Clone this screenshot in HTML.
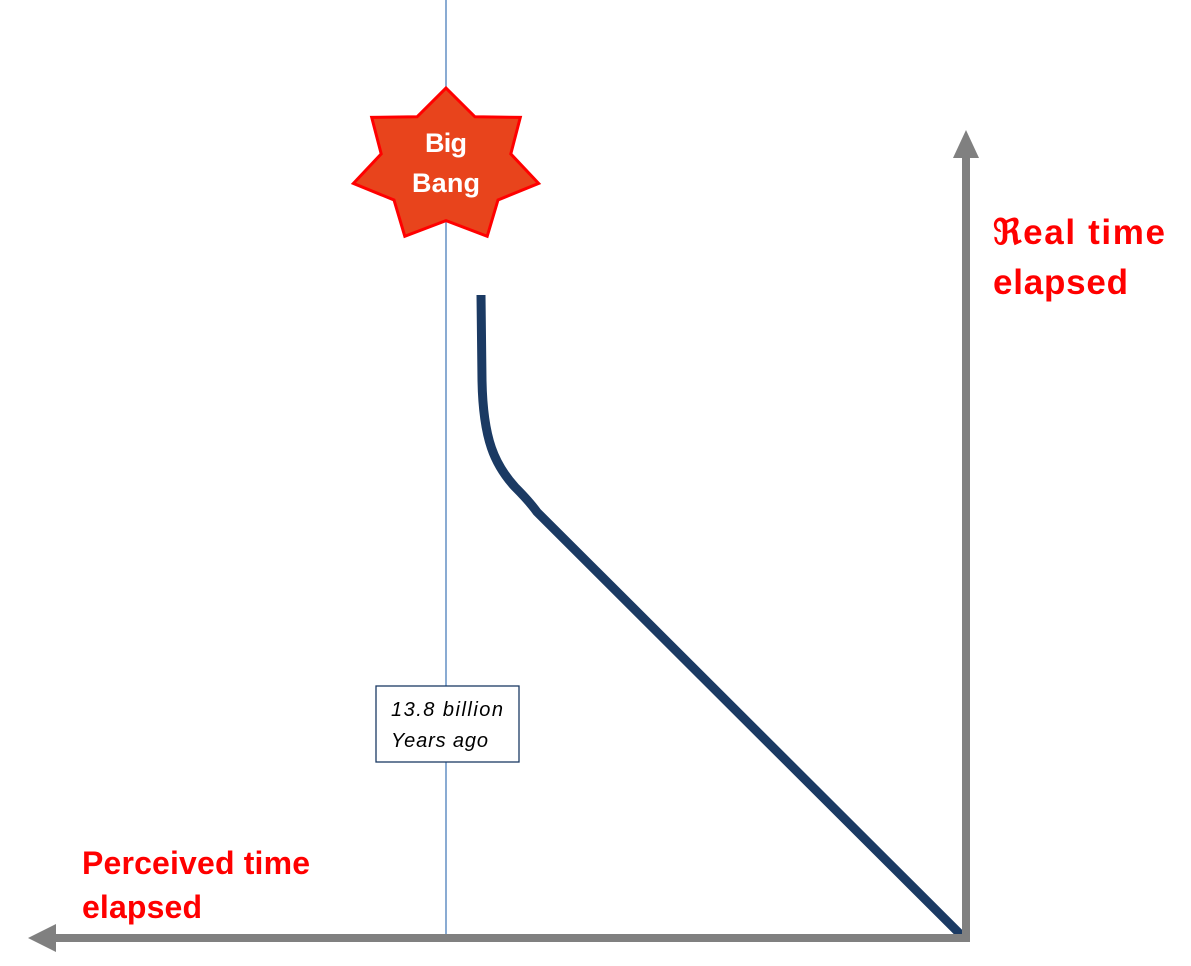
<!DOCTYPE html>
<html><head><style>body{margin:0;background:#fff}</style></head><body>
<svg width="1191" height="966" xmlns="http://www.w3.org/2000/svg" style="display:block">
<line x1="446" y1="0" x2="446" y2="936" stroke="#4a7ebb" stroke-width="1.3"/>
<polygon id="star" fill="#e8441c" stroke="#ff0000" stroke-width="3" points=""/>
<text x="446" y="152" font-family="Liberation Sans, sans-serif" font-weight="bold" font-size="27" fill="#fff" text-anchor="middle" textLength="42">Big</text>
<text x="446" y="192" font-family="Liberation Sans, sans-serif" font-weight="bold" font-size="27" fill="#fff" text-anchor="middle" textLength="68">Bang</text>
<path d="M481,295 L482,380 C483,440 495,465 515,487 C525,497 532,505 537,512 L963,937" fill="none" stroke="#1b3a63" stroke-width="9"/>
<line x1="966" y1="156" x2="966" y2="942" stroke="#808080" stroke-width="8"/>
<polygon points="966,130 953,158 979,158" fill="#808080"/>
<line x1="54" y1="938" x2="970" y2="938" stroke="#808080" stroke-width="8"/>
<polygon points="28,938 56,924 56,952" fill="#808080"/>
<rect x="376" y="686" width="143" height="76" fill="#fff" stroke="#1b3a63" stroke-width="1.3"/>
<text x="391" y="716" font-family="Liberation Sans, sans-serif" font-style="italic" font-size="20" fill="#000" textLength="112">13.8 billion</text>
<text x="391" y="747" font-family="Liberation Sans, sans-serif" font-style="italic" font-size="20" fill="#000" textLength="97">Years ago</text>
<text x="993" y="244" font-family="Liberation Sans, sans-serif" font-weight="bold" font-size="35" fill="#ff0000" textLength="172">ℜeal time</text>
<text x="993" y="294" font-family="Liberation Sans, sans-serif" font-weight="bold" font-size="35" fill="#ff0000" textLength="135">elapsed</text>
<text x="82" y="874" font-family="Liberation Sans, sans-serif" font-weight="bold" font-size="32" fill="#ff0000" textLength="228">Perceived time</text>
<text x="82" y="918" font-family="Liberation Sans, sans-serif" font-weight="bold" font-size="32" fill="#ff0000" textLength="120">elapsed</text>
</svg>
<script>
var p=[],cx=446,cy=166;
for(var k=0;k<14;k++){var a=-Math.PI/2+k*Math.PI/7;var r=k%2?0.7:1;p.push((cx+95*r*Math.cos(a)).toFixed(1)+","+(cy+78*r*Math.sin(a)).toFixed(1));}
document.getElementById("star").setAttribute("points",p.join(" "));
</script>
</body></html>
